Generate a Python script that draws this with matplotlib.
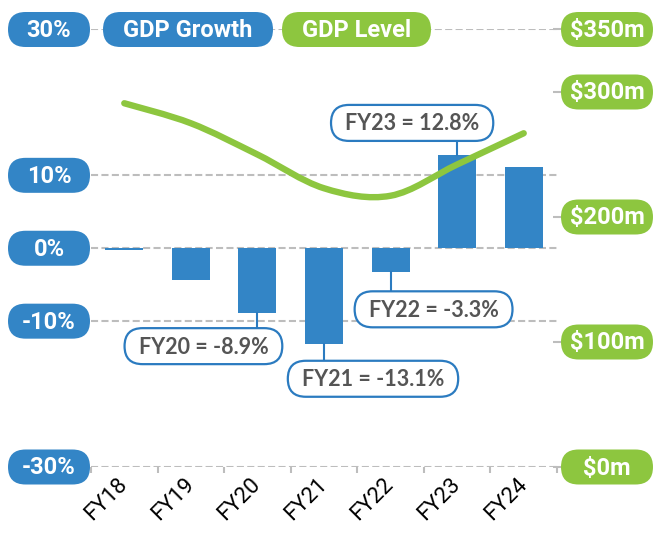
import matplotlib
matplotlib.use('Agg')
import matplotlib.pyplot as plt
import numpy as np
from matplotlib.patches import FancyBboxPatch, PathPatch
from matplotlib.path import Path
from matplotlib.lines import Line2D
from matplotlib.transforms import IdentityTransform

# ---------------- data ----------------
categories = ['FY18', 'FY19', 'FY20', 'FY21', 'FY22', 'FY23', 'FY24']
gdp_growth = [-0.2, -4.4, -8.9, -13.1, -3.3, 12.8, 11.1]          # %
gdp_level = [291, 275, 250, 223, 217, 242, 267]                   # $m
left_ticks = [30, 10, 0, -10, -30]
left_labels = ['30%', '10%', '0%', '-10%', '-30%']
right_ticks = [350, 300, 200, 100, 0]
right_labels = [r'\$350m', r'\$300m', r'\$200m', r'\$100m', r'\$0m']
labelled = ['FY20', 'FY21', 'FY22', 'FY23']

# ---------------- style ----------------
BLUE = '#3385C6'
GREEN = '#8DC63F'
GREY = '#BDBDBD'
EDGE = '#2B7BC0'
TXT = '#555555'
PILL_FONT = 'Roboto'
ANN_FONT = 'Lato'

W, H = 654, 533
fig = plt.figure(figsize=(W / 100, H / 100), dpi=100)
ax = fig.add_axes([91 / W, (H - 467) / H, (557 - 91) / W, (467 - 29.5) / H])
ax.set_xlim(-0.5, 6.5)
ax.set_ylim(-30, 30)
ax2 = ax.twinx()
ax2.set_ylim(0, 350)

for a in (ax, ax2):
    for s in a.spines.values():
        s.set_visible(False)

# gridlines
for v in left_ticks:
    ax.axhline(v, color=GREY, lw=1.5, dashes=(3.4, 1.6), zorder=0.5)

x = np.arange(len(categories))
ax.bar(x, gdp_growth, width=0.57, color=BLUE, zorder=2)

# smooth line (Catmull-Rom as cubic Bezier segments)
P = np.column_stack([x, gdp_level]).astype(float)
n = len(P)
verts = [P[0]]
codes = [Path.MOVETO]
for i in range(n - 1):
    p0 = P[max(i - 1, 0)]
    p1 = P[i]
    p2 = P[i + 1]
    p3 = P[min(i + 2, n - 1)]
    c1 = p1 + (p2 - p0) / 6
    c2 = p2 - (p3 - p1) / 6
    verts += [c1, c2, p2]
    codes += [Path.CURVE4] * 3
ax2.add_patch(PathPatch(Path(verts, codes), facecolor='none', edgecolor=GREEN,
                        lw=4.6, capstyle='round', joinstyle='round', zorder=3))

# ticks
ax.set_xticks(x)
ax.set_xticklabels(categories, rotation=45, ha='right', va='center',
                   rotation_mode='anchor', fontsize=16, family='Roboto', color='black')
ax.tick_params(axis='x', which='major', length=0, pad=10)
ax.set_xticks(np.arange(-0.5, len(categories), 1), minor=True)
ax.tick_params(axis='x', which='minor', length=4, width=1.5, color=GREY, direction='out')
ax.set_yticks([])
ax2.set_yticks(right_ticks)
ax2.tick_params(axis='y', length=6, width=1.5, color=GREY, direction='inout', labelright=False)

ID = IdentityTransform()


def pill(cx, cy, w, h, face, text, tcolor='white', fs=17, family=PILL_FONT,
         weight='bold', edge='none', lw=0):
    p = FancyBboxPatch((cx - w / 2, cy - h / 2), w, h,
                       boxstyle=f'round,pad=0,rounding_size={h / 2}',
                       facecolor=face, edgecolor=edge, lw=lw, transform=ID, zorder=5)
    fig.add_artist(p)
    fig.text(cx, cy - 1, text, transform=ID, ha='center', va='center', color=tcolor,
             fontsize=fs, family=family, weight=weight, zorder=6)


for v, lab in zip(left_ticks, left_labels):
    cy = ax.transData.transform((0, v))[1]
    pill(49, cy, 82, 35, BLUE, lab)
for v, lab in zip(right_ticks, right_labels):
    cy = ax2.transData.transform((0, v))[1]
    pill(607, cy, 92, 35, GREEN, lab)

cy_top = ax.transData.transform((0, left_ticks[0]))[1]
pill(188, cy_top, 170, 35, BLUE, 'GDP Growth')
pill(356.5, cy_top, 149, 35, GREEN, 'GDP Level')

# annotations (offsets of box centre from bar end, in pixels)
offsets = {'FY20': (-54, -33), 'FY21': (49, -35), 'FY22': (43, -37), 'FY23': (-45, 32)}
renderer = fig.canvas.get_renderer()
for cat in labelled:
    i = categories.index(cat)
    v = gdp_growth[i]
    bx, by = ax.transData.transform((i, v))
    dx, dy = offsets[cat]
    cx, cy = bx + dx, by + dy
    txt = f'{cat} = {v}%'
    t = fig.text(cx, cy - 1, txt, transform=ID, ha='center', va='center', color=TXT,
                 fontsize=15.5, family=ANN_FONT, weight='bold', zorder=8)
    tw = t.get_window_extent(renderer).width
    w, h = tw + 28, 36
    edge_y = cy + h / 2 if dy < 0 else cy - h / 2
    fig.add_artist(Line2D([bx, bx], [by, edge_y], transform=ID, color=EDGE, lw=1.5, zorder=6))
    fig.add_artist(FancyBboxPatch((cx - w / 2, cy - h / 2), w, h,
                                  boxstyle=f'round,pad=0,rounding_size={h / 2}',
                                  facecolor='white', edgecolor=EDGE, lw=1.6,
                                  transform=ID, zorder=7))

fig.savefig('out.png', dpi=100)
